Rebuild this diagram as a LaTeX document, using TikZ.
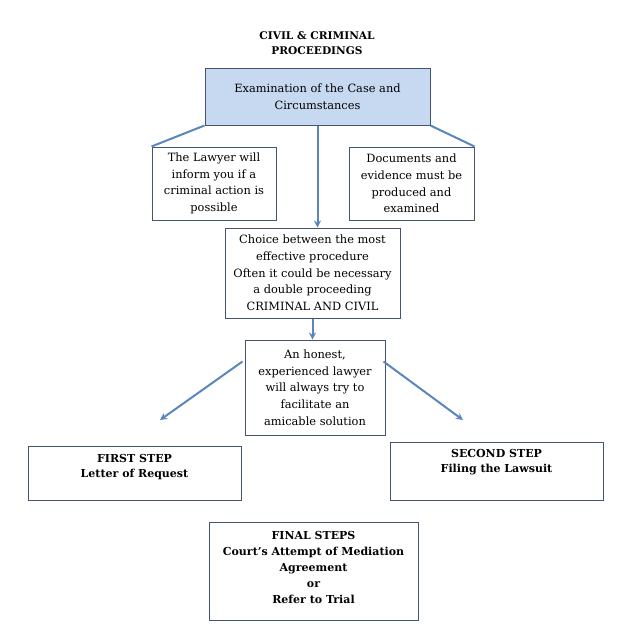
\documentclass[tikz,border=0pt]{standalone}
\usepackage{fontspec}
\setmainfont{DejaVu Serif}
\usetikzlibrary{arrows.meta,calc}
\definecolor{boxc}{HTML}{44546C}
\definecolor{arrc}{HTML}{5A86BE}
\definecolor{fillc}{HTML}{C6D9F1}
\begin{document}
\begin{tikzpicture}[x=1pt,y=-1pt,
  box/.style={draw=boxc, line width=1pt, inner sep=0pt, align=center,
    font=\fontsize{11.4}{16.7}\selectfont},
  txt/.style={inner sep=0pt, align=center, font=\fontsize{11}{15.5}\selectfont\bfseries},
  conn/.style={draw=arrc, line width=2pt},
  arr/.style={conn, -{Stealth[length=7pt,width=7pt]}}]
\useasboundingbox (0,0) rectangle (635,643);
\node[txt, font=\fontsize{10.6}{15.5}\selectfont\bfseries] (title) at (317,43) {CIVIL \& CRIMINAL\\PROCEEDINGS};
\node[box, fill=fillc, minimum width=225pt, minimum height=57pt] (exam) at (317.5,96.5)
  {Examination of the Case and\\Circumstances};
\node[box, minimum width=124pt, minimum height=73pt] (lawyer) at (214,183.5)
  {The Lawyer will\\inform you if a\\criminal action is\\possible};
\node[box, minimum width=125pt, minimum height=73pt] (docs) at (411.5,183.5)
  {Documents and\\evidence must be\\produced and\\examined};
\node[box, minimum width=175pt, minimum height=90pt] (choice) at (312.5,273)
  {Choice between the most\\effective procedure\\Often it could be necessary\\a double proceeding\\CRIMINAL AND CIVIL};
\node[box, minimum width=140pt, minimum height=95pt] (honest) at (315,387.5)
  {An honest,\\experienced lawyer\\will always try to\\facilitate an\\amicable solution};
\node[box, minimum width=213pt, minimum height=54pt] (first) at (134.5,473) {};
\node[txt] (firstt) at (134.5,467) {FIRST STEP\\Letter of Request};
\node[box, minimum width=213pt, minimum height=58pt] (second) at (496.5,471) {};
\node[txt] (secondt) at (496.5,462) {SECOND STEP\\Filing the Lawsuit};
\node[box, minimum width=209pt, minimum height=98pt] (final) at (313.5,571) {};
\node[txt, font=\fontsize{11}{16}\selectfont\bfseries] (finalt) at (313.5,567)
  {FINAL STEPS\\Court's Attempt of Mediation\\Agreement\\or\\Refer to Trial};
\coordinate (lend) at (160,420);
\coordinate (rend) at (463,420);
\draw[conn] (exam.south west) -- (lawyer.north west);
\draw[conn] (exam.south east) -- (docs.north east);
\draw[arr] (exam.south) -- (exam.south |- choice.north);
\draw[arr] (choice.south) -- (choice.south |- honest.north);
\draw[arr] ($(honest.north west)+(-2,22)$) -- (lend);
\draw[arr] ($(honest.north east)+(-2,22)$) -- (rend);
\end{tikzpicture}
\end{document}
